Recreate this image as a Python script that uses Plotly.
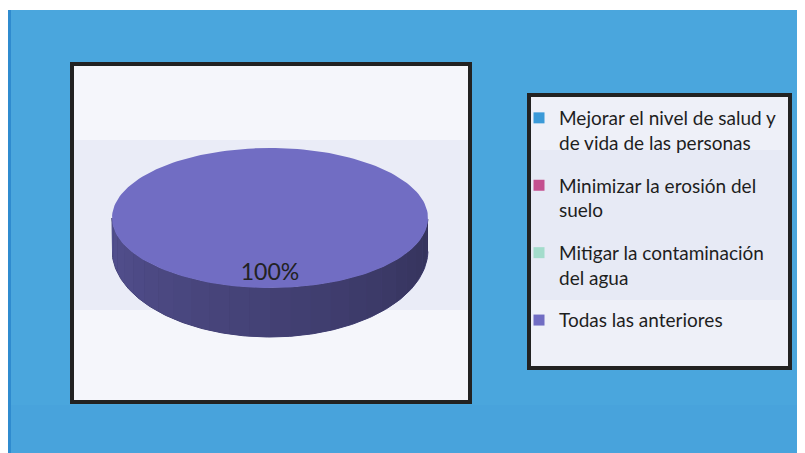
import numpy as np
import plotly.graph_objects as go

# --- data ---
labels = [
    "Mejorar el nivel de salud y<br>de vida de las personas",
    "Minimizar la erosión del<br>suelo",
    "Mitigar la contaminación<br>del agua",
    "Todas las anteriores",
]
values = [0, 0, 0, 100]
colors = ['#3b9ad8', '#c4508f', '#a3dccb', '#716dc3']

W, H = 805, 453
OFF = 8  # page body margin: keep axis units equal to window pixels
# 3D pie geometry (pixel space)
CX, CY, RX, RY = 270, 218, 158, 70
CY_BOT, RY_BOT = 250, 87


def shade(hex_color, f):
    r, g, b = (int(hex_color[i:i + 2], 16) for i in (1, 3, 5))
    return f'rgb({int(r * f)},{int(g * f)},{int(b * f)})'


def side_xy(t0, t1):
    xs = [CX + RX * np.cos(t0), CX + RX * np.cos(t1), CX + RX * np.cos(t1), CX + RX * np.cos(t0)]
    ys = [CY - RY * np.sin(t0), CY - RY * np.sin(t1), CY_BOT - RY_BOT * np.sin(t1), CY_BOT - RY_BOT * np.sin(t0)]
    return xs, ys


fig = go.Figure()

total = sum(values)
start = np.pi / 2
slices = []
for lab, val, col in zip(labels, values, colors):
    sweep = 2 * np.pi * val / total
    slices.append((val, col, start, start - sweep))
    start -= sweep

# side walls (front half only), drawn first
for val, col, a0, a1 in slices:
    if val == 0:
        continue
    ts = np.linspace(a0, a1, 49)
    # base wall in one colour so no gaps show between the shaded strips
    front = [t for t in np.linspace(a0, a1, 361) if np.sin(t) < 0]
    if front:
        bx = list(CX + RX * np.cos(front)) + list(CX + RX * np.cos(front[::-1]))
        by = list(CY - RY * np.sin(front)) + list(CY_BOT - RY_BOT * np.sin(front[::-1]))
        fig.add_trace(go.Scatter(x=bx, y=by, fill='toself', mode='lines',
                                 line=dict(color=shade(col, 0.6), width=1),
                                 fillcolor=shade(col, 0.6),
                                 showlegend=False, hoverinfo='skip'))
    for t0, t1 in zip(ts[:-1], ts[1:]):
        tm = (t0 + t1) / 2
        if np.sin(tm) >= 0:
            continue
        pos = ((tm % (2 * np.pi)) - np.pi) / np.pi  # 0 = left, 1 = right
        c = shade(col, 0.74 - 0.28 * pos)
        xs, ys = side_xy(t0, t1)
        fig.add_trace(go.Scatter(x=xs, y=ys, fill='toself', mode='none',
                                 fillcolor=c, showlegend=False, hoverinfo='skip'))

# top faces + labels
for val, col, a0, a1 in slices:
    if val == 0:
        continue
    ts = np.linspace(a0, a1, 181)
    xs = [CX] + list(CX + RX * np.cos(ts)) + [CX]
    ys = [CY] + list(CY - RY * np.sin(ts)) + [CY]
    fig.add_trace(go.Scatter(x=xs, y=ys, fill='toself', mode='lines',
                             line=dict(color=col, width=0), fillcolor=col,
                             showlegend=False, hoverinfo='skip'))
    mid = (a0 + a1) / 2
    fig.add_trace(go.Scatter(
        x=[CX + 0.8 * RX * np.cos(mid) if val < total else CX],
        y=[CY - 0.8 * RY * np.sin(mid)],
        mode='text', text=[f'{val / total:.0%}'],
        textfont=dict(family='Lato', size=23, color='#222222'),
        showlegend=False, hoverinfo='skip'))

# legend entries
for i, (lab, col) in enumerate(zip(labels, colors)):
    fig.add_trace(go.Scatter(x=[None], y=[None], mode='markers', name=lab,
                             legendgroup=str(i),
                             marker=dict(symbol='square', size=11, color=col)))

shapes = [
    dict(type='rect', x0=8, y0=10, x1=W + OFF, y1=H + OFF, fillcolor='#4aa6dd', line_width=0),
    dict(type='rect', x0=8, y0=10, x1=11, y1=H + OFF, fillcolor='#2f8bcf', line_width=0),
    dict(type='rect', x0=11, y0=405, x1=W + OFF, y1=H + OFF, fillcolor='#3d93d4', opacity=0.15, line_width=0),
    # chart box
    dict(type='rect', x0=72, y0=64, x1=470, y1=402, fillcolor='#f5f6fb',
         line=dict(color='#222222', width=4)),
    dict(type='rect', x0=74, y0=140, x1=468, y1=310, fillcolor='#e0e3f4',
         opacity=0.55, line_width=0),
    # legend box
    dict(type='rect', x0=529, y0=95, x1=790, y1=368, fillcolor='#eef0f8',
         line=dict(color='#222222', width=4)),
    dict(type='rect', x0=531, y0=150, x1=788, y1=300, fillcolor='#e2e5f3',
         opacity=0.55, line_width=0),
]
for s in shapes:
    s.update(xref='x', yref='y', layer='below')

fig.update_layout(
    width=W, height=H,
    margin=dict(l=0, r=0, t=0, b=0),
    paper_bgcolor='white', plot_bgcolor='rgba(0,0,0,0)',
    xaxis=dict(range=[OFF, W + OFF], visible=False, fixedrange=True),
    yaxis=dict(range=[H + OFF, OFF], visible=False, fixedrange=True),
    shapes=shapes,
    showlegend=True,
    legend=dict(
        x=(519 - OFF) / W, y=1 - (99 - OFF) / H, xanchor='left', yanchor='top',
        bgcolor='rgba(0,0,0,0)', borderwidth=0,
        font=dict(family='Lato', size=19, color='#1e1e1e'),
        valign='top', tracegroupgap=15,
    ),
)

fig.write_html("out.html")
